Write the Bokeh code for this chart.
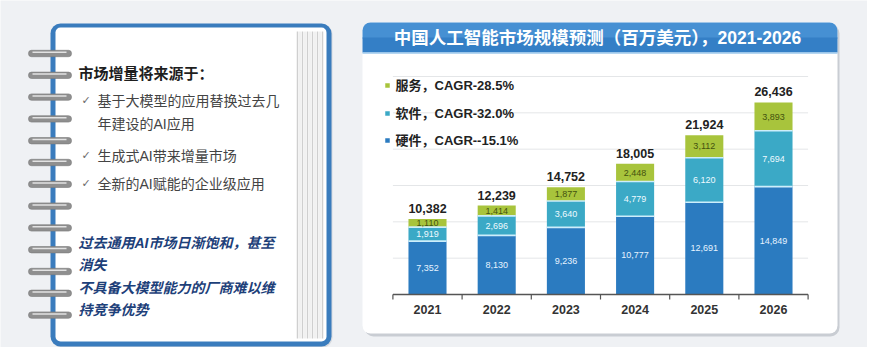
import numpy as np
from bokeh.plotting import figure
from bokeh.models import Range1d
from bokeh.core.properties import value
from bokeh.embed import file_html
from bokeh.resources import INLINE

# ---------------- data ----------------
years = ["2021", "2022", "2023", "2024", "2025", "2026"]
hardware = [7352, 8130, 9236, 10777, 12691, 14849]
software = [1919, 2696, 3640, 4779, 6120, 7694]
services = [1110, 1414, 1877, 2448, 3112, 3893]
totals = [10382, 12239, 14752, 18005, 21924, 26436]
legend_names = ["服务", "软件", "硬件"]
legend_cagr = ["28.5%", "32.0%", "-15.1%"]
grid_values = [5000, 10000, 15000, 20000, 25000, 30000]
title_text = "中国人工智能市场规模预测（百万美元），2021-2026"
note_heading = "市场增量将来源于："
note_bullets = ["基于大模型的应用替换过去几", "年建设的AI应用", "生成式AI带来增量市场", "全新的AI赋能的企业级应用"]
note_warnings = ["过去通用AI市场日渐饱和，甚至", "消失", "不具备大模型能力的厂商难以维", "持竞争优势"]

# ---------------- layout (page pixels) ----------------
W, H = 867, 347
OX, OY = 0, 0                      # where the canvas sits on the page
X_FIRST, X_STEP = 427.0, 69.2      # centre of first bar, bar spacing
BASE_Y, TOP_Y, TOP_V = 294.0, 76.0, 30000.0
K = TOP_V / (BASE_Y - TOP_Y)       # value per pixel
BAR_W = 0.55

C_HW, C_SW, C_SV = "#2b7bc0", "#3ba9c6", "#a8c43c"
CJK = "'Liberation Sans', 'Noto Sans CJK SC'"

p = figure(width=W, height=H, output_backend="svg", toolbar_location=None,
           x_range=Range1d(OX, OX + W), y_range=Range1d(OY + H, OY),
           x_axis_type=None, y_axis_type=None, min_border=0)
p.outline_line_color = None
p.background_fill_color = "#eff1f4"
p.border_fill_color = "#eff1f4"
p.grid.visible = False
p.extra_x_ranges = {"idx": Range1d((OX - X_FIRST) / X_STEP, (OX + W - X_FIRST) / X_STEP)}
p.extra_y_ranges = {"val": Range1d(-(OY + H - BASE_Y) * K, (BASE_Y - OY) * K)}

# ---------------- notebook panel ----------------
p.quad(left=[51], right=[332], top=[24], bottom=[347], fill_color="#d5d9de", line_color=None, border_radius=10)
p.quad(left=[50], right=[331], top=[23], bottom=[346], fill_color="#3a7cbd", line_color=None, border_radius=10)
p.quad(left=[55], right=[326], top=[27], bottom=[341], fill_color="#ffffff", line_color=None, border_radius=5)
stripe_x = np.arange(297, 323, 2.5)
stripe_c = ["#cfcfcf" if i % 2 == 0 else "#ececec" for i in range(len(stripe_x))]
p.segment(x0=stripe_x, x1=stripe_x, y0=31, y1=338, line_color=stripe_c, line_width=1.5)
ring_y = 53 + 21.8 * np.arange(13)
p.quad(left=28, right=71, top=ring_y - 3.2, bottom=ring_y + 3.2, fill_color="#8f8f8f",
       line_color="#7a7a7a", line_width=0.6, border_radius=3)
p.segment(x0=32, x1=66, y0=ring_y - 1.2, y1=ring_y - 1.2, line_color="#e2e2e2", line_width=1.5)

p.text(x=[78], y=[72], text=[note_heading], text_font=value("Noto Sans CJK SC"), text_font_size="15px",
       text_font_style="bold", text_color="#1e1e1e", text_baseline="middle")
bullet_y = [100, 123, 155, 183]
p.text(x=[97] * 4, y=bullet_y, text=note_bullets, text_font=value(CJK), text_font_size="14px",
       text_color="#444444", text_baseline="middle")
p.text(x=[81] * 3, y=[100, 155, 183], text=["✓"] * 3, text_font=value("DejaVu Sans"), text_font_size="11px",
       text_color="#6a6a6a", text_baseline="middle")
warn_y = [242, 264, 287, 309]
p.text(x=[78] * 4, y=warn_y, text=note_warnings, text_font=value(CJK), text_font_size="14px",
       text_font_style="bold italic", text_color="#1d4079", text_baseline="middle")

# ---------------- chart panel ----------------
p.quad(left=[364], right=[839], top=[24], bottom=[336], fill_color="#c9cdd3", line_color=None, border_radius=9)
p.quad(left=[362], right=[837], top=[22], bottom=[333], fill_color="#ffffff", line_color=None, border_radius=8)
p.quad(left=[362], right=[837], top=[22], bottom=[38], fill_color="#4690d3", line_color=None, border_radius=(8, 8, 0, 0))
p.quad(left=[362], right=[837], top=[37], bottom=[52], fill_color="#347fc6", line_color=None)
p.segment(x0=[362], x1=[837], y0=[52.5], y1=[52.5], line_color="#9cc8ec", line_width=1.5)
p.text(x=[597], y=[37], text=[title_text], text_font=value(CJK), text_font_size="17.5px",
       text_font_style="bold", text_color="#ffffff", text_align="center", text_baseline="middle")

n = len(years)
idx = np.arange(n)
hw = np.array(hardware, dtype=float)
sw = np.array(software, dtype=float)
sv = np.array(services, dtype=float)

# gridlines
gv = np.array(grid_values, dtype=float)
p.segment(x0=-0.5, x1=n - 0.5, y0=gv, y1=gv, line_color="#e4e6e8", line_width=1,
          x_range_name="idx", y_range_name="val")

# stacked bars
p.vbar(x=idx, width=BAR_W, bottom=0, top=hw, fill_color=C_HW, line_color=None,
       x_range_name="idx", y_range_name="val")
p.vbar(x=idx, width=BAR_W, bottom=hw, top=hw + sw, fill_color=C_SW, line_color=None,
       x_range_name="idx", y_range_name="val")
p.vbar(x=idx, width=BAR_W, bottom=hw + sw, top=hw + sw + sv, fill_color=C_SV, line_color=None,
       x_range_name="idx", y_range_name="val")
for b in (hw, hw + sw):
    p.segment(x0=idx - BAR_W / 2, x1=idx + BAR_W / 2, y0=b, y1=b, line_color="#cdeefb", line_width=1.6,
              x_range_name="idx", y_range_name="val")

# axis line and ticks
p.segment(x0=[-0.5], x1=[n - 0.5], y0=[0], y1=[0], line_color="#555555", line_width=1.3,
          x_range_name="idx", y_range_name="val")
tx = np.arange(n + 1) - 0.5
p.segment(x0=tx, x1=tx, y0=0, y1=-5 * K, line_color="#555555", line_width=1.2,
          x_range_name="idx", y_range_name="val")
p.text(x=idx, y=[309] * n, text=years, text_font=value("Liberation Sans"), text_font_size="12.5px",
       text_font_style="bold", text_color="#333333", text_align="center", text_baseline="middle",
       x_range_name="idx")

# segment labels
fmt = lambda arr: [f"{int(v):,}" for v in arr]
p.text(x=idx, y=hw / 2, text=fmt(hw), text_font=value("Liberation Sans"), text_font_size="9px",
       text_color="#e6f3ff", text_align="center", text_baseline="middle",
       x_range_name="idx", y_range_name="val")
p.text(x=idx, y=hw + sw / 2, text=fmt(sw), text_font=value("Liberation Sans"), text_font_size="9px",
       text_color="#eefaff", text_align="center", text_baseline="middle",
       x_range_name="idx", y_range_name="val")
p.text(x=idx, y=hw + sw + sv / 2, text=fmt(sv), text_font=value("Liberation Sans"), text_font_size="9px",
       text_color="#44520f", text_align="center", text_baseline="middle",
       x_range_name="idx", y_range_name="val")
# totals
p.text(x=idx, y=hw + sw + sv, text=[f"{t:,}" for t in totals], text_font=value("Liberation Sans"),
       text_font_size="12.5px", text_font_style="bold", text_color="#222222", text_align="center",
       text_baseline="bottom", y_offset=-6, x_range_name="idx", y_range_name="val")

# legend
leg_y = [85, 113, 140]
p.rect(x=[387] * 3, y=leg_y, width=4.5, height=4.5, fill_color=[C_SV, C_SW, C_HW], line_color=None)
p.text(x=[395] * 3, y=leg_y, text=[f"{a}，CAGR-{c}" for a, c in zip(legend_names, legend_cagr)],
       text_font=value(CJK), text_font_size="13px", text_font_style="bold", text_color="#222222",
       text_baseline="middle")

open("out.html", "w").write(file_html(p, INLINE))
